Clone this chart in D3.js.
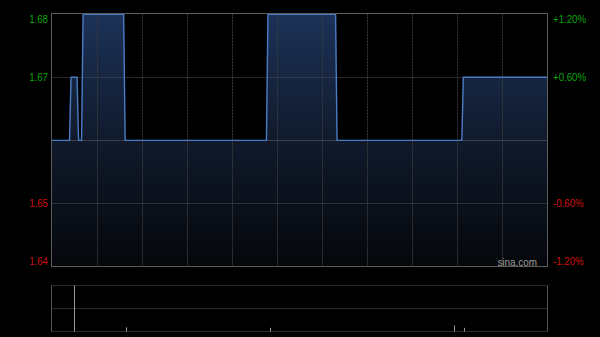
<!DOCTYPE html>
<html>
<head>
<meta charset="utf-8">
<script src="https://cdn.jsdelivr.net/npm/d3@7"></script>
<style>
html,body{margin:0;padding:0;background:#000;}
svg{display:block;}
text{font-family:Arial,"Liberation Sans",sans-serif;}
</style>
</head>
<body>
<svg id="chart" width="600" height="337"></svg>
<script>
// trading minute offsets from 09:30 (HK session, 330 minutes incl. lunch gap)
const priceMinutes = [0, 12, 13, 17, 18, 20, 21, 48, 49, 143, 144, 189, 190, 273, 274, 330];
const prices       = [1.66, 1.66, 1.67, 1.67, 1.66, 1.66, 1.68, 1.68, 1.66, 1.66, 1.68, 1.68, 1.66, 1.66, 1.67, 1.67];
const prevClose = 1.66;
const priceTicks = [1.68, 1.67, 1.66, 1.65, 1.64];
const priceLabels = ["1.68", "1.67", "", "1.65", "1.64"];
const pctLabels = ["+1.20%", "+0.60%", "", "-0.60%", "-1.20%"];
const volMinutes = [15, 50, 146, 268, 275];
const volumes = [100, 9, 8, 13, 8];
const timeGrid = [30, 60, 90, 120, 150, 180, 210, 240, 270, 300];

const svg = d3.select("#chart");
const L = 51.5, R = 547.5, T = 13.5, B = 266.5;
const VT = 285.5, VB = 331.5;

const x = d3.scaleLinear().domain([0, 330]).range([L, R]);
const y = d3.scaleLinear().domain([1.64, 1.68]).range([B, T + 0.7]);
const yv = d3.scaleLinear().domain([0, d3.max(volumes)]).range([VB, VT]);

const defs = svg.append("defs");
const grad = defs.append("linearGradient").attr("id", "fillGrad")
  .attr("gradientUnits", "userSpaceOnUse").attr("x1", 0).attr("y1", T).attr("x2", 0).attr("y2", B);
grad.append("stop").attr("offset", "0%").attr("stop-color", "#1c3258");
grad.append("stop").attr("offset", "50%").attr("stop-color", "#101a2c");
grad.append("stop").attr("offset", "100%").attr("stop-color", "#05070b");

const pts = priceMinutes.map((m, i) => [m, prices[i]]);

// area
svg.append("path").datum(pts)
  .attr("d", d3.area().x(d => x(d[0])).y0(B).y1(d => y(d[1])))
  .attr("fill", "url(#fillGrad)");

// vertical grid
svg.append("g").selectAll("line").data(timeGrid).join("line")
  .attr("x1", d => Math.round(x(d)) + 0.5).attr("x2", d => Math.round(x(d)) + 0.5)
  .attr("y1", T).attr("y2", B)
  .attr("stroke", "#3a3a3a").attr("stroke-dasharray", "2,1");

// horizontal grid
svg.append("g").selectAll("line").data(priceTicks.filter(d => d !== 1.68 && d !== 1.64)).join("line")
  .attr("x1", L).attr("x2", R)
  .attr("y1", d => Math.round(y(d)) + 0.5).attr("y2", d => Math.round(y(d)) + 0.5)
  .attr("stroke", d => d === prevClose ? "#666" : "#4e4e4e").attr("stroke-dasharray", "1,1");

// price line
svg.append("path").datum(pts)
  .attr("d", d3.line().x(d => x(d[0])).y(d => y(d[1])))
  .attr("fill", "none").attr("stroke", "#4a7cc6").attr("stroke-width", 1.4);

// border
svg.append("rect").attr("x", L).attr("y", T).attr("width", R - L).attr("height", B - T)
  .attr("fill", "none").attr("stroke", "#5c5c5c");

// labels
const color = v => v > prevClose ? "#0aa50a" : (v < prevClose ? "#cc1111" : "#aaa");
const labY = (d) => d === 1.68 ? y(d) + 9 : (d === 1.64 ? y(d) - 2 : y(d) + 4);
svg.append("g").selectAll("text").data(priceTicks).join("text")
  .attr("transform", d => `translate(48,${labY(d)}) scale(0.88,1)`)
  .attr("text-anchor", "end")
  .attr("font-size", 11).attr("fill", color)
  .text((d, i) => priceLabels[i]);
svg.append("g").selectAll("text").data(priceTicks).join("text")
  .attr("transform", d => `translate(553,${labY(d)}) scale(0.88,1)`)
  .attr("text-anchor", "start")
  .attr("font-size", 11).attr("fill", color)
  .text((d, i) => pctLabels[i]);

// watermark
svg.append("text").attr("transform", "translate(537,266) scale(0.9,1)").attr("text-anchor", "end")
  .attr("font-size", 11).attr("fill", "#9a9a9a").text("sina.com");

// volume panel
svg.append("g").selectAll("line").data([VT, (VT + VB) / 2, VB]).join("line")
  .attr("x1", L).attr("x2", R)
  .attr("y1", d => Math.round(d - 0.5) + 0.5).attr("y2", d => Math.round(d - 0.5) + 0.5)
  .attr("stroke", "#555").attr("stroke-dasharray", "1,1");
svg.append("g").selectAll("line").data([L, R]).join("line")
  .attr("x1", d => d).attr("x2", d => d).attr("y1", VT).attr("y2", VB)
  .attr("stroke", "#555");
svg.append("g").selectAll("line").data(volMinutes).join("line")
  .attr("x1", d => Math.floor(x(d)) + 0.5).attr("x2", d => Math.floor(x(d)) + 0.5)
  .attr("y1", VB).attr("y2", (d, i) => yv(volumes[i]))
  .attr("stroke", "#9a9a9a");
</script>
</body>
</html>
